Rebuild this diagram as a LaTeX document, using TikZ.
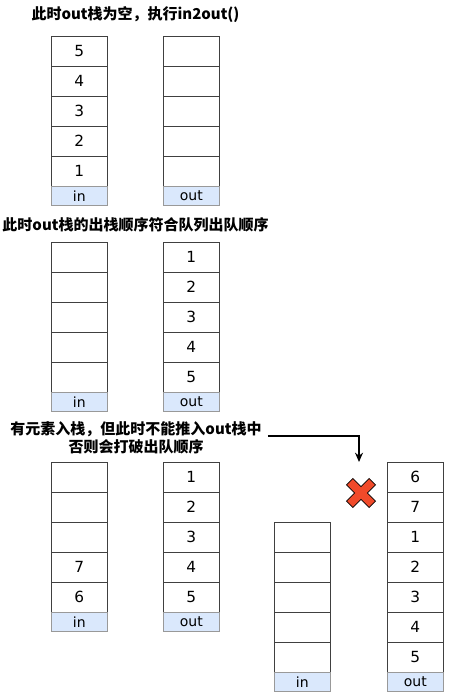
\documentclass[tikz,border=0pt]{standalone}
\usepackage{fontspec}
\setmainfont{DejaVu Sans}
\newfontfamily\cjk{Noto Sans CJK SC}
\usepackage{tikz}
\usetikzlibrary{calc, arrows.meta}
\usepackage{xcolor}
\definecolor{labelblue}{HTML}{DAE8FC}
\definecolor{crossred}{HTML}{F04A2A}

\begin{document}
\begin{tikzpicture}[x=0.75pt, y=-0.75pt,
	cell/.style={draw=black!75, fill=white, minimum width=42pt, minimum height=22.5pt, inner sep=0pt, anchor=north west, font=\fontsize{11.5}{12}\selectfont},
	tag/.style={draw=black!40, fill=labelblue, minimum width=42pt, minimum height=14.25pt, inner sep=0pt, anchor=north west, font=\fontsize{10.5}{12}\selectfont},
	note/.style={font=\cjk\bfseries\fontsize{11.25}{13.5}\selectfont, align=center, inner sep=0pt}]
	\useasboundingbox (0,0) rectangle (452,698);
	%Titles
	\node [note] (note1) at (135.5,15) {此时out栈为空，执行in2out()};
	\node [note] (note2) at (135.5,225) {此时out栈的出栈顺序符合队列出队顺序};
	\node [note] (note3) at (136,438) {有元素入栈，但此时不能推入out栈中\\否则会打破出队顺序};
	%Step 1: in holds 5..1, out is empty
	\foreach \v [count=\i from 0] in {5,4,3,2,1} {
		\node [cell] (inA\i) at (51,36+30*\i) {\v};
		\node [cell] (outA\i) at (163,36+30*\i) {};
	}
	\node [tag] (inAtag) at (51,186) {in};
	\node [tag] (outAtag) at (163,186) {out};
	%Step 2: everything moved to out
	\foreach \v [count=\i from 0] in {1,2,3,4,5} {
		\node [cell] (inB\i) at (51,242+30*\i) {};
		\node [cell] (outB\i) at (163,242+30*\i) {\v};
	}
	\node [tag] (inBtag) at (51,392) {in};
	\node [tag] (outBtag) at (163,392) {out};
	%Step 3: 6 and 7 pushed into in
	\foreach \v [count=\i from 0] in {{},{},{},7,6} {
		\node [cell] (inC\i) at (51,462+30*\i) {\v};
	}
	\foreach \v [count=\i from 0] in {1,2,3,4,5} {
		\node [cell] (outC\i) at (163,462+30*\i) {\v};
	}
	\node [tag] (inCtag) at (51,612) {in};
	\node [tag] (outCtag) at (163,612) {out};
	%Wrong move: 6 and 7 pushed on top of out
	\foreach \i in {0,...,4} {
		\node [cell] (inD\i) at (274,522+30*\i) {};
	}
	\foreach \v [count=\i from 0] in {6,7,1,2,3,4,5} {
		\node [cell] (outD\i) at (387,462+30*\i) {\v};
	}
	\node [tag] (inDtag) at (274,672) {in};
	\node [tag] (outDtag) at (387,672) {out};
	%Arrow to the wrong stack
	\coordinate (arrowEnd) at (359,462);
	\draw [line width=1.1pt, -{Stealth[length=7pt, width=6pt]}] ($(note3.east)+(6,-2)$) -| (arrowEnd);
	%Red cross
	\begin{scope}[shift={(361,493)}, rotate=45]
		\draw [fill=crossred, draw=black, line width=0.6pt]
			(4.5,4.5) -- (4.5,16) -- (-4.5,16) -- (-4.5,4.5) -- (-16,4.5) -- (-16,-4.5) -- (-4.5,-4.5) -- (-4.5,-16) -- (4.5,-16) -- (4.5,-4.5) -- (16,-4.5) -- (16,4.5) -- cycle;
	\end{scope}
\end{tikzpicture}
\end{document}
